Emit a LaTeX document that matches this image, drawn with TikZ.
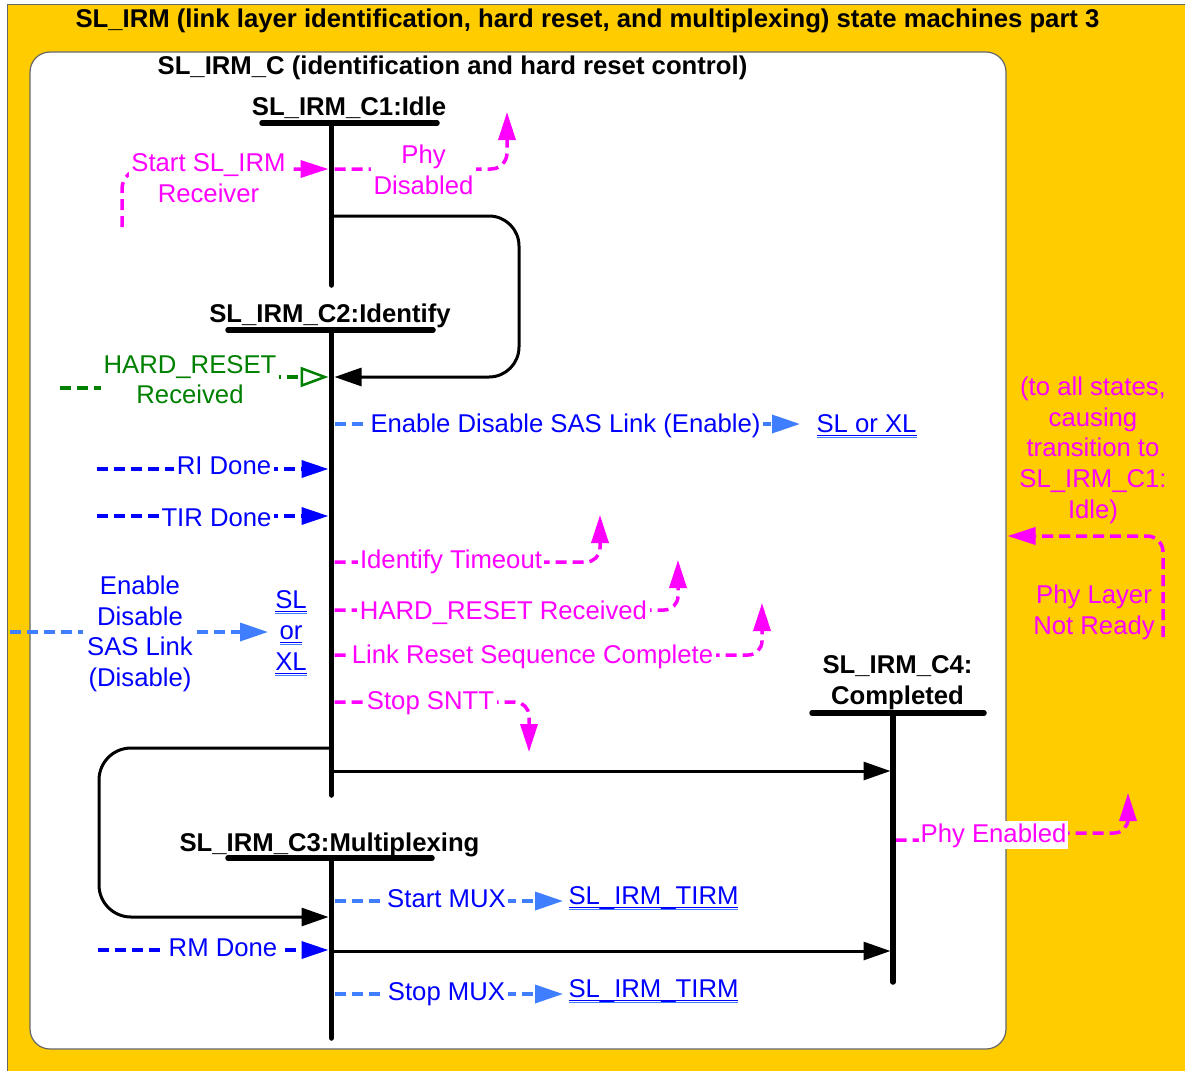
\documentclass[tikz,border=0pt]{standalone}
\usepackage{fontspec}
\setmainfont{Liberation Sans}
\usetikzlibrary{arrows.meta}
\definecolor{ylw}{HTML}{FFCC00}
\definecolor{mag}{HTML}{FF00FF}
\definecolor{grn}{HTML}{008000}
\definecolor{lblue}{HTML}{3F7FFF}
\definecolor{dblue}{HTML}{0000FF}
\newcommand\fsz{\fontsize{25.7}{30.8}\selectfont}
\newcommand\dul[1]{\leavevmode\setbox0\hbox{#1}\rlap{\color{dblue}\rule[-3.6pt]{\wd0}{1.1pt}}\rlap{\color{lblue}\rule[-5.8pt]{\wd0}{1.1pt}}\box0}
\tikzset{
  txt/.style={font=\fsz, inner sep=0pt, align=center},
  bl/.style={font=\fsz\bfseries, inner sep=0pt, align=center, text=black},
  wbox/.style={fill=white, inner xsep=2.5pt, inner ysep=0pt},
  sbar/.style={line width=5.5pt, line cap=round, black},
  trans/.style={line width=3pt, black, -{Triangle[length=27pt,width=18pt]}},
  mdash/.style={mag, line width=3.5pt, dash pattern=on 11pt off 6pt, -{Triangle[length=28pt,width=17pt]}},
  gdash/.style={grn, line width=3.5pt, dash pattern=on 11pt off 6pt, -{Triangle[open, fill=white, length=28pt, width=20pt, line width=2.5pt]}},
  bdash/.style={dblue, line width=3.5pt, dash pattern=on 11pt off 6pt, -{Triangle[length=27pt,width=17pt]}},
  ldash/.style={lblue, line width=3.5pt, dash pattern=on 11pt off 6pt, -{Triangle[length=28pt,width=18pt]}}
}
\begin{document}
\begin{tikzpicture}[x=1pt, y=-1pt]
\useasboundingbox (0,0) rectangle (1185,1070);
\fill[white] (0,0) rectangle (1185,1070);
\filldraw[fill=ylw, draw=black!60, line width=1pt] (7,5) rectangle (1195,1080);
\filldraw[fill=white, draw=black!60, line width=1.2pt, rounded corners=20pt] (30,52) rectangle (1006,1049);

% ---------- state coordinates ----------
\coordinate (c1L) at (262,123);   \coordinate (c1R) at (437,123);
\coordinate (c1T) at (331.5,123); \coordinate (c1B) at (331.5,285);
\coordinate (c2L) at (228,330);   \coordinate (c2R) at (433,330);
\coordinate (c2T) at (331.5,330); \coordinate (c2B) at (331.5,795);
\coordinate (c3L) at (228,858);   \coordinate (c3R) at (432,858);
\coordinate (c3T) at (331.5,858); \coordinate (c3B) at (331.5,1038);
\coordinate (c4L) at (812,713);   \coordinate (c4R) at (984,713);
\coordinate (c4T) at (893,713);   \coordinate (c4B) at (893,982);

% ---------- connector end points ----------
\coordinate (t1s) at (331.5,216); \coordinate (t1e) at (334.5,377);
\coordinate (t2s) at (331.5,748); \coordinate (t2e) at (328.5,917);
\coordinate (t3s) at (334,771);   \coordinate (t3e) at (890.5,771);
\coordinate (t4s) at (334,951);   \coordinate (t4e) at (890.5,951);

\coordinate (ssrS) at (122,227);  \coordinate (ssrE) at (328.5,169);
\coordinate (pdS) at (334.5,169); \coordinate (pdE) at (507,112);
\coordinate (hrS) at (60,388);    \coordinate (hrE) at (328.5,377);
\coordinate (enS) at (334.5,424); \coordinate (enE) at (800,424);
\coordinate (riS) at (97,469);    \coordinate (riE) at (328.5,469);
\coordinate (tirS) at (97,516);   \coordinate (tirE) at (328.5,516);
\coordinate (itS) at (334.5,562); \coordinate (itE) at (600,515);
\coordinate (hr2S) at (334.5,610);\coordinate (hr2E) at (678,560);
\coordinate (lrS) at (334.5,655); \coordinate (lrE) at (762,603);
\coordinate (ssS) at (334.5,702); \coordinate (ssE) at (529,752);
\coordinate (disS) at (10,632);   \coordinate (disE) at (268,632);
\coordinate (smS) at (334.5,901); \coordinate (smE) at (563,901);
\coordinate (rmS) at (98,950);    \coordinate (rmE) at (328.5,950);
\coordinate (spS) at (334.5,994); \coordinate (spE) at (563,994);
\coordinate (peS) at (895.5,840); \coordinate (peE) at (1128,793);
\coordinate (plS) at (1163,637);  \coordinate (plE) at (1007.5,536);

% ---------- black transitions ----------
\draw[trans, rounded corners=30pt] (t1s) -- (519,216) -- (519,377) -- (t1e);
\draw[trans, rounded corners=32pt] (t2s) -- (99,748) -- (99,917) -- (t2e);
\draw[trans] (t3s) -- (t3e);
\draw[trans] (t4s) -- (t4e);

% ---------- event / output connectors ----------
\draw[mdash, rounded corners=20pt] (ssrS) -- (122,169) -- (ssrE);
\draw[mdash, rounded corners=16pt] (pdS) -- (507,169) -- (pdE);
\draw[gdash] (hrS) -- (190,388) -- (190,377) -- (hrE);
\draw[ldash] (enS) -- (enE);
\draw[bdash] (riS) -- (riE);
\draw[bdash] (tirS) -- (tirE);
\draw[mdash, rounded corners=14pt] (itS) -- (600,562) -- (itE);
\draw[mdash, rounded corners=14pt] (hr2S) -- (678,610) -- (hr2E);
\draw[mdash, rounded corners=14pt] (lrS) -- (762,655) -- (lrE);
\draw[mdash, rounded corners=14pt] (ssS) -- (529,702) -- (ssE);
\draw[ldash] (disS) -- (disE);
\draw[ldash] (smS) -- (smE);
\draw[bdash] (rmS) -- (rmE);
\draw[ldash] (spS) -- (spE);
\draw[mdash] (peS) -- (1000,840) -- (1000,833) [rounded corners=14pt] -- (1128,833) -- (peE);
\draw[mdash, rounded corners=16pt] (plS) -- (1163,536) -- (plE);

% ---------- states ----------
\draw[sbar] (c1L) -- (c1R); \draw[sbar] (c1T) -- (c1B);
\draw[sbar] (c2L) -- (c2R); \draw[sbar] (c2T) -- (c2B);
\draw[sbar] (c3L) -- (c3R); \draw[sbar] (c3T) -- (c3B);
\draw[sbar] (c4L) -- (c4R); \draw[sbar] (c4T) -- (c4B);

% ---------- texts ----------
\node[bl, anchor=base] (title) at (587.5,28) {SL\_IRM (link layer identification, hard reset, and multiplexing) state machines part 3};
\node[bl, anchor=base] (sub) at (452.5,75) {SL\_IRM\_C (identification and hard reset control)};
\node[bl, anchor=base] (c1lbl) at (349,116) {SL\_IRM\_C1:Idle};
\node[bl, anchor=base] (c2lbl) at (330,322) {SL\_IRM\_C2:Identify};
\node[bl, anchor=base] (c3lbl) at (329.5,851) {SL\_IRM\_C3:Multiplexing};
\node[bl, anchor=north] (c4lbl) at (897.5,655.5) {SL\_IRM\_C4:\\Completed};

\node[txt, wbox, text=mag, anchor=north] (ssr) at (208.5,153.5) {Start SL\_IRM\\Receiver};
\node[txt, wbox, text=mag, anchor=north] (pd) at (423.5,144.5) {Phy\\Disabled};
\node[txt, wbox, text=grn, anchor=north] (hr) at (190,355) {HARD\_RESET\\Received};
\node[txt, wbox, text=dblue, anchor=base] (en) at (565.5,432) {Enable Disable SAS Link (Enable)};
\node[txt, text=dblue, anchor=base] (slxl1) at (866.5,432) {\dul{SL or XL}};
\node[txt, wbox, text=dblue, anchor=base] (ri) at (224,474.5) {RI Done};
\node[txt, wbox, text=dblue, anchor=base] (tir) at (216.5,526) {TIR Done};
\node[txt, wbox, text=mag, anchor=base] (it) at (451,568) {Identify Timeout};
\node[txt, wbox, text=mag, anchor=base] (hr2) at (503.5,619) {HARD\_RESET Received};
\node[txt, wbox, text=mag, anchor=base] (lr) at (532.5,663) {Link Reset Sequence Complete};
\node[txt, wbox, text=mag, anchor=base] (ss) at (430.5,709) {Stop SNTT};
\node[txt, fill=white, inner xsep=4pt, text=dblue, anchor=north] (dis) at (140,575.5) {Enable\\Disable\\SAS Link\\(Disable)};
\node[txt, text=dblue, anchor=north] (slxl2) at (291,590.5) {\dul{SL}\\\dul{or}\\\dul{XL}};
\node[txt, wbox, text=dblue, anchor=base] (sm) at (446.5,907) {Start MUX};
\node[txt, text=dblue, anchor=base] (tirm1) at (653.5,904) {\dul{SL\_IRM\_TIRM}};
\node[txt, wbox, text=dblue, anchor=base] (rm) at (223,956) {RM Done};
\node[txt, wbox, text=dblue, anchor=base] (sp) at (446.5,1000) {Stop MUX};
\node[txt, text=dblue, anchor=base] (tirm2) at (653.5,997) {\dul{SL\_IRM\_TIRM}};
\node[txt, fill=white, inner sep=2pt, text=mag, anchor=base] (pe) at (993.5,842) {Phy Enabled};
\node[txt, text=mag, anchor=north] (all) at (1093,376.5) {(to all states,\\causing\\transition to\\SL\_IRM\_C1:\\Idle)};
\node[txt, text=mag, anchor=north] (pl) at (1094,584.5) {Phy Layer\\Not Ready};
\end{tikzpicture}
\end{document}
